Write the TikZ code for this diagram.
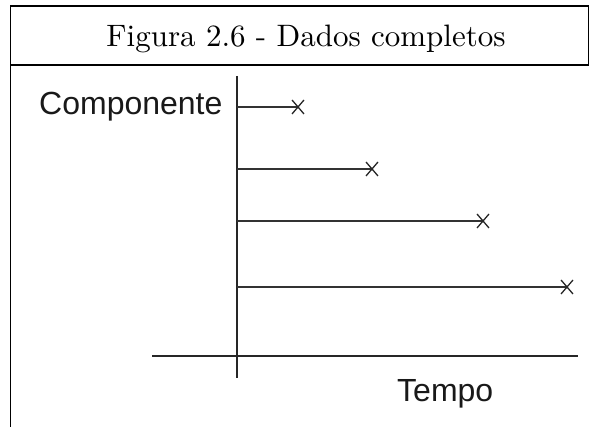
\documentclass[tikz,border=0pt]{standalone}
\usepackage{fontspec}
\newfontfamily\arialish{Liberation Sans}
\begin{document}
\begin{tikzpicture}[x=1pt,y=-1pt,
  frame/.style={line width=1.6pt,black},
  axis/.style={line width=1.8pt,black!85},
  bar/.style={line width=1.8pt,black!80},
  xmark/.style={line width=1.3pt,black!85},
  lbl/.style={inner sep=0pt,font=\arialish\fontsize{32}{32}\selectfont,text=black!90},
  ttl/.style={inner sep=0pt,font=\fontsize{10}{10}\selectfont}]
\useasboundingbox (0,0) rectangle (590,427);
% frame
\coordinate (tl) at (10.5,6);
\coordinate (tr) at (588.5,6);
\coordinate (hl) at (10.5,65);
\coordinate (hr) at (588.5,65);
\coordinate (bl) at (10.5,427);
\draw[frame] (bl) -- (tl) -- (tr) -- (hr);
\draw[frame] (hl) -- (hr);
\node[ttl,anchor=base] (title) at (306,47) {\scalebox{3.1}{Figura 2.6 - Dados completos}};
% axes
\coordinate (vtop) at (237,76);
\coordinate (vbot) at (237,378);
\coordinate (hleft) at (152,356);
\coordinate (hright) at (578,356);
\draw[axis] (vtop) -- (vbot);
\draw[axis] (hleft) -- (hright);
\node[lbl,anchor=base west] (comp) at (39,115) {Componente};
\node[lbl,anchor=base west] (tempo) at (397,402) {Tempo};
% bars
\foreach \n/\y/\x in {1/107/298, 2/169/372, 3/221/483, 4/287/567}{
  \coordinate (s\n) at (237,\y);
  \coordinate (e\n) at (\x,\y);
  \draw[bar] (s\n) -- (e\n);
  \draw[xmark] ([shift={(-6,-7)}]e\n) -- ([shift={(6,7)}]e\n);
  \draw[xmark] ([shift={(6,-7)}]e\n) -- ([shift={(-6,7)}]e\n);
}
\end{tikzpicture}
\end{document}
